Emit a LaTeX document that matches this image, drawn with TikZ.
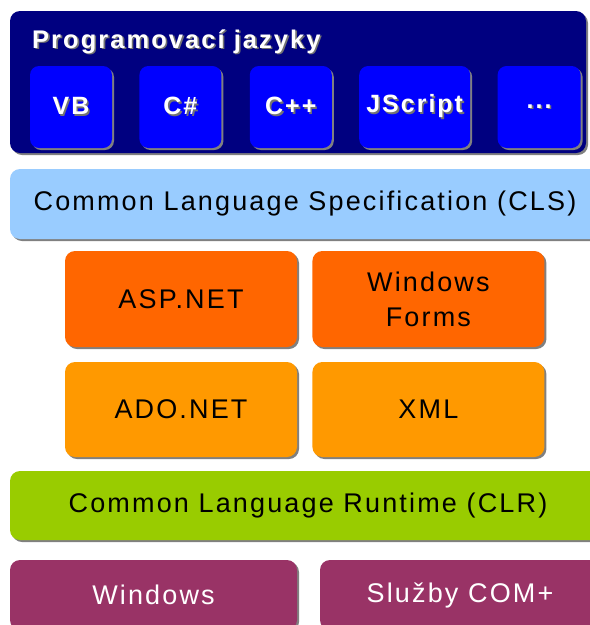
\documentclass[tikz,border=0pt]{standalone}
\usepackage{fontspec}
\setmainfont{Liberation Sans}[LetterSpace=8]
\usetikzlibrary{positioning,shadows}
\definecolor{navy}{HTML}{000080}
\definecolor{langblue}{HTML}{0000FF}
\definecolor{clsblue}{HTML}{99CCFF}
\definecolor{asporange}{HTML}{FF6600}
\definecolor{adoorange}{HTML}{FF9900}
\definecolor{clrgreen}{HTML}{99CC00}
\definecolor{ospurple}{HTML}{993366}
\newcommand\shtext[1]{\rlap{\kern1.6pt\raisebox{-1.6pt}{\textcolor{black!55}{#1}}}#1}

\begin{document}
\begin{tikzpicture}[x=1pt, y=-1pt, every node/.style={font=\fontsize{27}{35}\selectfont, inner sep=0pt},
  layer/.style={rounded corners=10pt, minimum height=70pt, drop shadow={shadow xshift=2pt, shadow yshift=-2pt, fill=black!50, opacity=1}},
  lang/.style={layer, fill=langblue, text=white, font=\fontsize{25}{34}\selectfont\bfseries, minimum width=82pt, minimum height=82pt, rounded corners=9pt},
  block/.style={layer, minimum width=232pt, minimum height=96pt, align=center}]
\useasboundingbox (0,0) rectangle (590,625);
\fill[white] (0,0) rectangle (590,625);
% languages
\node[layer, fill=navy, minimum width=576pt, minimum height=142pt] (langs) at (298,82) {};
\node[anchor=base west, text=white, font=\fontsize{25.5}{34}\selectfont\bfseries] (title) at (32,48) {\shtext{Programovací jazyky}};
\node[lang] (vb) at (71,107) {\shtext{VB}};
\node[lang, right=27pt of vb] (cs) {\shtext{C\#}};
\node[lang, right=28pt of cs] (cpp) {\shtext{C++}};
\node[lang, right=27pt of cpp, minimum width=111pt] (js) {\shtext{JScript}};
\node[lang, right=27pt of js, minimum width=83pt] (more) {\shtext{...}};
% CLS
\node[layer, fill=clsblue, minimum width=590pt] (cls) at (305,204) {Common Language Specification (CLS)};
% libraries
\node[block, fill=asporange] (asp) at (181,299) {ASP.NET};
\node[block, fill=asporange, right=15pt of asp] (forms) {Windows\\Forms};
\node[block, fill=adoorange, minimum height=95pt] (ado) at (181,409.5) {ADO.NET};
\node[block, fill=adoorange, minimum height=95pt, right=15pt of ado] (xml) {XML};
% CLR
\node[layer, fill=clrgreen, minimum width=596pt, minimum height=69pt] (clr) at (308,505.5) {Common Language Runtime (CLR)};
% OS
\node[layer, fill=ospurple, text=white, minimum width=287pt] (win) at (153.5,595) {Windows};
\node[layer, fill=ospurple, text=white, minimum width=280pt] (com) at (460,595) {Služby COM+};
\end{tikzpicture}
\end{document}
